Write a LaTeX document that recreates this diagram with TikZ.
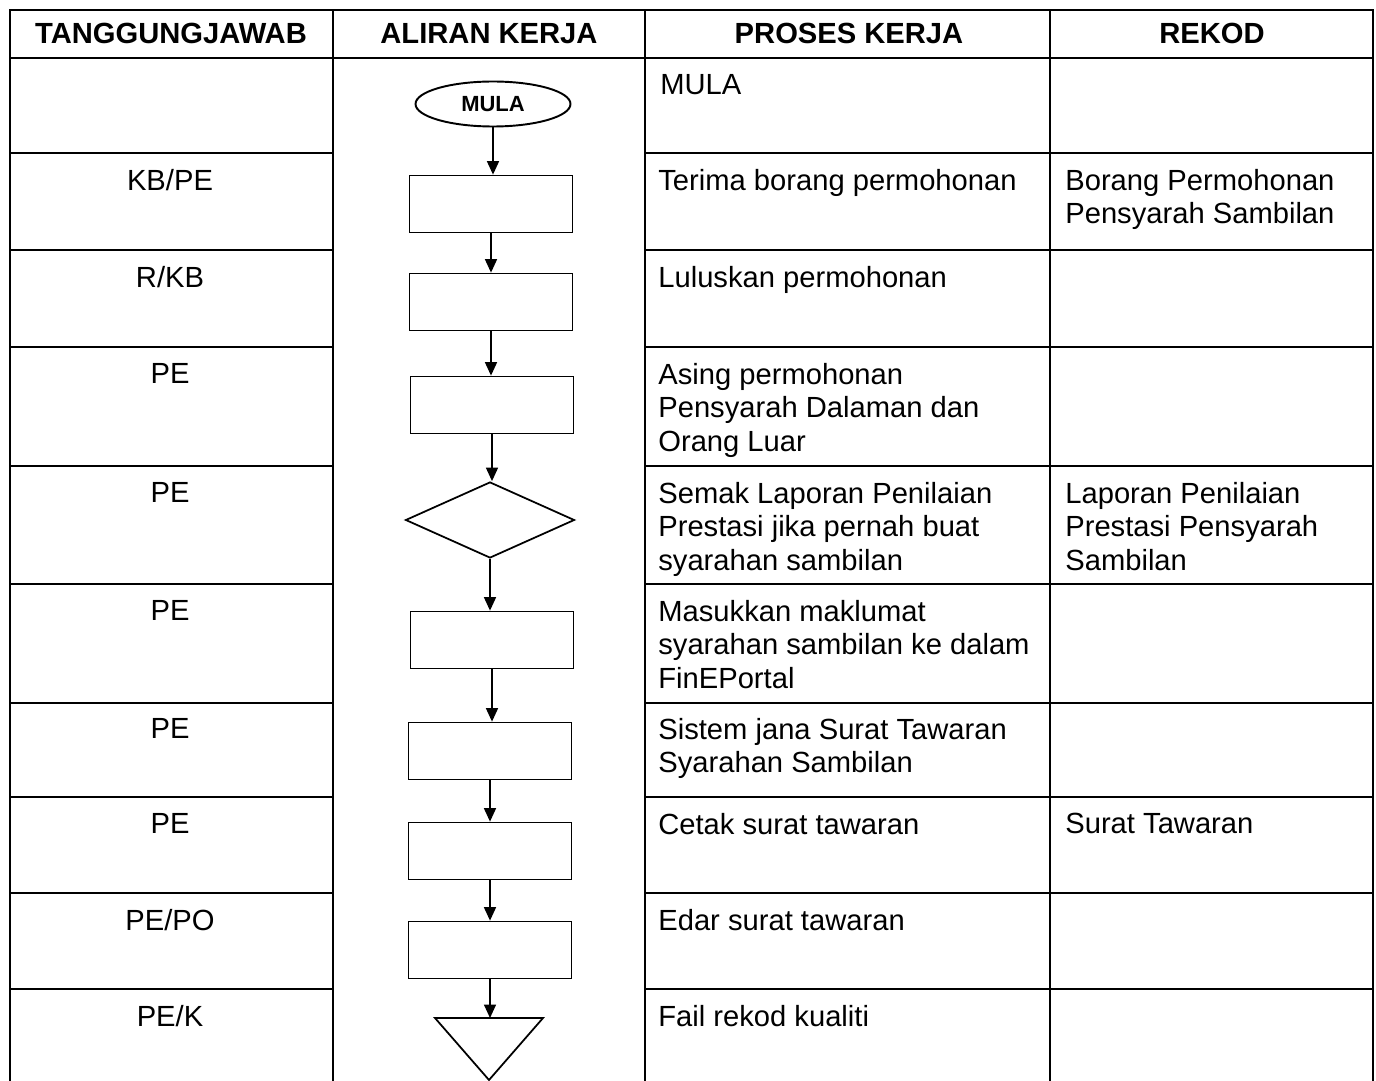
\documentclass[tikz,border=0pt]{standalone}
\usepackage{fontspec}
\setmainfont{Liberation Sans}
\usetikzlibrary{arrows.meta,shapes.geometric}

\begin{document}
\begin{tikzpicture}[x=0.02cm,y=-0.02cm,
  grid/.style={line width=0.8pt},
  proc/.style={draw,line width=1pt,minimum width=3.26cm,minimum height=1.14cm,inner sep=0},
  flow/.style={line width=0.9pt,-{Triangle[length=0.27cm,width=0.24cm]}},
  head/.style={font=\bfseries\fontsize{16.6}{19}\selectfont,anchor=north,inner sep=0},
  who/.style={font=\fontsize{16.6}{19}\selectfont,anchor=north,inner sep=0},
  txt/.style={font=\fontsize{16.6}{19}\selectfont,anchor=north west,inner sep=0,align=left}]
  \useasboundingbox (0,0) rectangle (1376,1081);

  % table lines
  \draw[grid] (10,1081) -- (10,10) -- (1373,10) -- (1373,1081);
  \draw[grid] (333,10) -- (333,1081);
  \draw[grid] (645,10) -- (645,1081);
  \draw[grid] (1050,10) -- (1050,1081);
  \draw[grid] (10,58) -- (1373,58);
  \draw[grid] (10,153) -- (333,153) (645,153) -- (1373,153);
  \draw[grid] (10,250) -- (333,250) (645,250) -- (1373,250);
  \draw[grid] (10,347) -- (333,347) (645,347) -- (1373,347);
  \draw[grid] (10,466) -- (333,466) (645,466) -- (1373,466);
  \draw[grid] (10,584) -- (333,584) (645,584) -- (1373,584);
  \draw[grid] (10,703) -- (333,703) (645,703) -- (1373,703);
  \draw[grid] (10,797) -- (333,797) (645,797) -- (1373,797);
  \draw[grid] (10,893) -- (333,893) (645,893) -- (1373,893);
  \draw[grid] (10,989) -- (333,989) (645,989) -- (1373,989);

  % headings
  \node[head] (h1) at (171,23) {TANGGUNGJAWAB};
  \node[head] (h2) at (489,23) {ALIRAN KERJA};
  \node[head] (h3) at (849,23) {PROSES KERJA};
  \node[head] (h4) at (1212,23) {REKOD};

  % tanggungjawab
  \node[who] (w2) at (170,169) {KB/PE};
  \node[who] (w3) at (170,266) {R/KB};
  \node[who] (w4) at (170,363) {PE};
  \node[who] (w5) at (170,482) {PE};
  \node[who] (w6) at (170,600) {PE};
  \node[who] (w7) at (170,718) {PE};
  \node[who] (w8) at (170,813) {PE};
  \node[who] (w9) at (170,909) {PE/PO};
  \node[who] (w10) at (170,1005) {PE/K};

  % proses kerja
  \node[txt] (p1) at (660,74) {MULA};
  \node[txt] (p2) at (658,169) {Terima borang permohonan};
  \node[txt] (p3) at (658,266) {Luluskan permohonan};
  \node[txt] (p4) at (658,363) {Asing permohonan\\Pensyarah Dalaman dan\\Orang Luar};
  \node[txt] (p5) at (658,482) {Semak Laporan Penilaian\\Prestasi jika pernah buat\\syarahan sambilan};
  \node[txt] (p6) at (658,600) {Masukkan maklumat\\syarahan sambilan ke dalam\\FinEPortal};
  \node[txt] (p7) at (658,718) {Sistem jana Surat Tawaran\\Syarahan Sambilan};
  \node[txt] (p8) at (658,813) {Cetak surat tawaran};
  \node[txt] (p9) at (658,909) {Edar surat tawaran};
  \node[txt] (p10) at (658,1005) {Fail rekod kualiti};

  % rekod
  \node[txt] (r2) at (1065,169) {Borang Permohonan\\Pensyarah Sambilan};
  \node[txt] (r5) at (1065,482) {Laporan Penilaian\\Prestasi Pensyarah\\Sambilan};
  \node[txt] (r8) at (1065,813) {Surat Tawaran};

  % aliran kerja
  \node[ellipse,draw,line width=1.1pt,minimum width=3.1cm,minimum height=0.9cm,inner sep=0,
    font=\bfseries\fontsize{12.5}{14}\selectfont] (mula) at (493,104) {MULA};
  \node[proc] (terima) at (491,204) {};
  \node[proc] (lulus) at (491,302) {};
  \node[proc] (asing) at (492,405) {};
  \node[diamond,draw,line width=1pt,minimum width=3.38cm,minimum height=1.52cm,inner sep=0] (semak) at (490,520) {};
  \node[proc] (masuk) at (492,640) {};
  \node[proc] (jana) at (490,751) {};
  \node[proc] (cetak) at (490,851) {};
  \node[proc] (edar) at (490,950) {};
  \coordinate (fail) at (489,1018);
  \draw[line width=1pt] (435,1018) -- (543,1018) -- (489,1080) -- cycle;

  \draw[flow] (mula.south) -- (mula.south |- terima.north);
  \draw[flow] (terima.south) -- (terima.south |- lulus.north);
  \draw[flow] (lulus.south) -- (lulus.south |- asing.north);
  \draw[flow] (asing.south) -- (asing.south |- semak.north);
  \draw[flow] (semak.south) -- (semak.south |- masuk.north);
  \draw[flow] (masuk.south) -- (masuk.south |- jana.north);
  \draw[flow] (jana.south) -- (jana.south |- cetak.north);
  \draw[flow] (cetak.south) -- (cetak.south |- edar.north);
  \draw[flow] (edar.south) -- (edar.south |- fail);
\end{tikzpicture}
\end{document}
